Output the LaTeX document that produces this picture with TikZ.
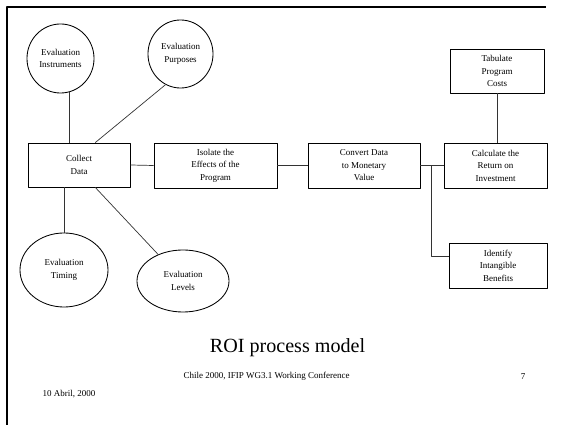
\documentclass[tikz,border=0pt]{standalone}
\usepackage{fontspec}
\setmainfont{Liberation Serif}
\usepackage{tikz}
\usetikzlibrary{shapes.geometric}

\begin{document}
\begin{tikzpicture}[x=0.025cm,y=-0.025cm,line join=round,
    stepbox/.style={draw,line width=0.6pt,align=center,inner sep=1pt,
      font=\fontsize{6.4}{8.9}\selectfont},
    factor/.style={ellipse,draw,line width=0.6pt,align=center,inner sep=0pt,
      font=\fontsize{6.4}{8.9}\selectfont},
    link/.style={line width=0.5pt,black!80}]
  \useasboundingbox (0,0) rectangle (566,425);
  % slide frame
  \draw[line width=1.4pt] (7,425) -- (7,7) -- (546,7);
  % ellipses
  \node[factor,minimum width=1.675cm,minimum height=1.725cm] (instr) at (60.5,58.5) {Evaluation\\Instruments};
  \node[factor,minimum width=1.625cm,minimum height=1.7cm] (purp) at (180.5,54) {Evaluation\\Purposes};
  \node[factor,minimum width=2.2cm,minimum height=1.85cm] (timing) at (64,270) {Evaluation\\Timing};
  \node[factor,minimum width=2.3cm,minimum height=1.55cm] (levels) at (183,281) {Evaluation\\Levels};
  % process steps
  \node[stepbox,minimum width=2.55cm,minimum height=1.1cm] (collect) at (79,165) {Collect\\Data};
  \node[stepbox,minimum width=3.075cm,minimum height=1.125cm] (isolate) at (215.5,165.5) {Isolate the\\Effects of the\\Program};
  \node[stepbox,minimum width=2.8cm,minimum height=1.125cm] (convert) at (364,165.5) {Convert Data\\to Monetary\\Value};
  \node[stepbox,minimum width=2.575cm,minimum height=1.125cm] (calc) at (495.5,165.5) {Calculate the\\Return on\\Investment};
  \node[stepbox,minimum width=2.35cm,minimum height=1.1cm] (tab) at (497,71) {Tabulate\\Program\\Costs};
  \node[stepbox,minimum width=2.45cm,minimum height=1.125cm] (ident) at (498,265.5) {Identify\\Intangible\\Benefits};
  \coordinate (jn) at (431,165.5);
  % connectors
  \draw[link] (instr.285) -- (instr.285 |- collect.north);
  \draw[link] (purp.244) -- (collect.54);
  \draw[link] (timing.north) -- (timing.north |- collect.south);
  \draw[link] (collect.-54) -- (levels);
  \draw[link] (collect.east) -- (isolate.west);
  \draw[link] (isolate.east) -- (convert.west);
  \draw[link] (convert.east) -- (calc.west);
  \draw[link] (tab.south) -- (tab.south |- calc.north);
  \draw[link] (jn) |- (ident.169);
  % captions
  \node[anchor=base,font=\fontsize{14.3}{16}\selectfont] (title) at (287.5,353) {ROI process model};
  \node[anchor=base,font=\fontsize{6.4}{8}\selectfont] (conf) at (266.5,379) {Chile 2000, IFIP WG3.1 Working Conference};
  \node[anchor=base,font=\fontsize{6.4}{8}\selectfont] (page) at (523,380) {7};
  \node[anchor=base,font=\fontsize{6.4}{8}\selectfont] (date) at (69,397) {10 Abril, 2000};
\end{tikzpicture}
\end{document}
